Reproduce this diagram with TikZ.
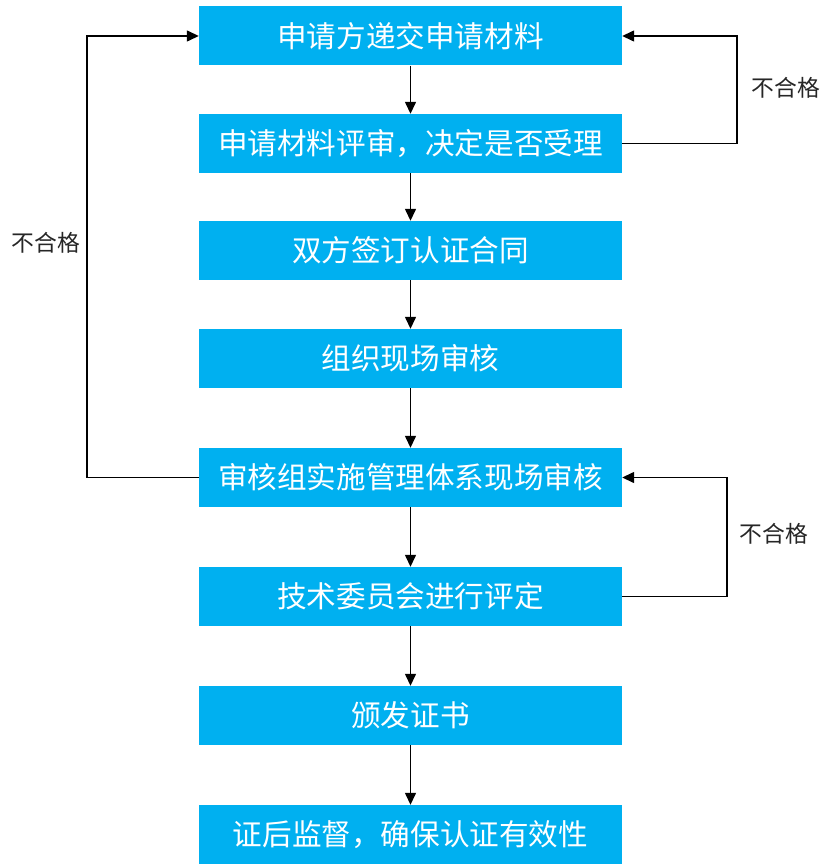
\documentclass[tikz,border=0pt]{standalone}
\usepackage{fontspec}
\setmainfont{Noto Sans CJK SC}
\newfontfamily\labelfont{Noto Sans CJK SC}
\usetikzlibrary{arrows.meta}

\begin{document}
\begin{tikzpicture}[x=1pt, y=-1pt,
    stepbox/.style={fill=boxblue, text=white, minimum width=423pt, minimum height=59pt, inner sep=0pt, font=\fontsize{29.6}{31}\selectfont},
    link/.style={line width=1.4pt, -{Triangle[length=12pt,width=11pt]}},
    nolabel/.style={font=\labelfont\fontsize{22.8}{25}\selectfont, text=black!85}]
        \definecolor{boxblue}{HTML}{00B0F0}
        \useasboundingbox (0,0) rectangle (824,864);

        % Kutular
        \node[stepbox] (apply)   at (410.5,36)    {申请方递交申请材料};
        \node[stepbox] (review)  at (410.5,143.5) {申请材料评审，决定是否受理};
        \node[stepbox] (sign)    at (410.5,250.5) {双方签订认证合同};
        \node[stepbox] (organ)   at (410.5,358.5) {组织现场审核};
        \node[stepbox] (audit)   at (410.5,477.5) {审核组实施管理体系现场审核};
        \node[stepbox] (tech)    at (410.5,596.5) {技术委员会进行评定};
        \node[stepbox] (issue)   at (410.5,715.5) {颁发证书};
        \node[stepbox] (monitor) at (410.5,834.5) {证后监督，确保认证有效性};

        % Oklar
        \draw[link] (apply) -- (review);
        \draw[link] (review) -- (sign);
        \draw[link] (sign) -- (organ);
        \draw[link] (organ) -- (audit);
        \draw[link] (audit) -- (tech);
        \draw[link] (tech) -- (issue);
        \draw[link] (issue) -- (monitor);

        % Geri dönüşler
        \draw[link] (review.east) -- (737,143.5) |- (apply.east);
        \draw[link] (tech.east) -- (727,596.5) |- (audit.east);
        \draw[link] (audit.west) -- (87,477.5) |- (apply.west);

        \node[nolabel] (fail1) at (786,88)  {不合格};
        \node[nolabel] (fail2) at (774,534) {不合格};
        \node[nolabel] (fail3) at (46,243)  {不合格};
    \end{tikzpicture}
\end{document}
